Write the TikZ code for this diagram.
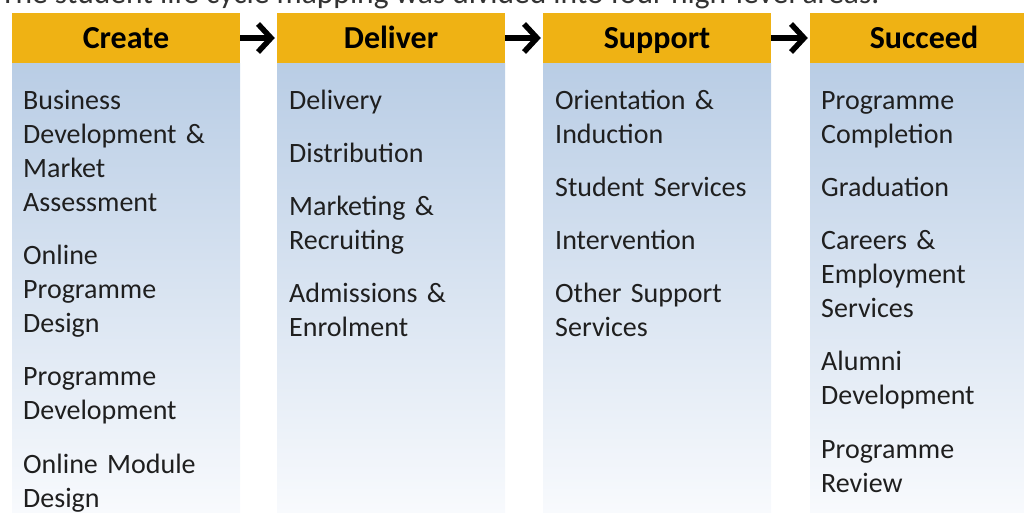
\documentclass[tikz,border=0pt]{standalone}
\usepackage{fontspec}
\setmainfont{Carlito}
\usetikzlibrary{arrows.meta}
\definecolor{hdrfill}{RGB}{239,178,20}
\definecolor{bodytop}{RGB}{185,205,229}
\definecolor{bodybot}{RGB}{248,250,253}
\begin{document}
\begin{tikzpicture}[x=1pt,y=-1pt,
 hdr/.style={fill=hdrfill, minimum width=228pt, minimum height=50pt, inner sep=0, text height=20.5pt, text depth=0pt, font=\fontsize{32}{36}\selectfont\bfseries, text=black},
 colbody/.style={top color=bodytop, bottom color=bodybot, minimum width=228pt, minimum height=450pt, inner sep=0, draw=none, anchor=north west},
 items/.style={anchor=base west, inner sep=0, text width=215pt, align=left, font=\fontsize{28}{34}\selectfont, text=black!88},
 flow/.style={line width=5.5pt, -{Straight Barb[length=13pt,width=28pt]}, shorten >=2pt}
]
\useasboundingbox (0,0) rectangle (1024,513);
\clip (0,0) rectangle (1024,513);
\node[anchor=base west, inner sep=0, font=\fontsize{31.5}{36}\selectfont, text=black!80] (title) at (0,4) {The student life cycle mapping was divided into four high-level areas.};
% column bodies
\node[colbody] (b1) at (12,63) {};
\node[colbody] (b2) at (277,63) {};
\node[colbody] (b3) at (543,63) {};
\node[colbody] (b4) at (810,63) {};
% headers
\node[hdr] (h1) at (126,38) {Create};
\node[hdr] (h2) at (391,38) {Deliver};
\node[hdr] (h3) at (657,38) {Support};
\node[hdr] (h4) at (924,38) {Succeed};
% arrows
\draw[flow] (h1.east) -- (h2.west);
\draw[flow] (h2.east) -- (h3.west);
\draw[flow] (h3.east) -- (h4.west);
% items
\node[items] (t1) at (23,110) {Business\\Development \&\\Market\\Assessment\\[19pt]Online\\Programme\\Design\\[19pt]Programme\\Development\\[19pt]Online Module\\Design};
\node[items] (t2) at (289,110) {Delivery\\[19pt]Distribution\\[19pt]Marketing \&\\Recruiting\\[19pt]Admissions \&\\Enrolment};
\node[items] (t3) at (555,110) {Orientation \&\\Induction\\[19pt]Student Services\\[19pt]Intervention\\[19pt]Other Support\\Services};
\node[items] (t4) at (821,110) {Programme\\Completion\\[19pt]Graduation\\[19pt]Careers \&\\Employment\\Services\\[19pt]Alumni\\Development\\[19pt]Programme\\Review};
\end{tikzpicture}
\end{document}
